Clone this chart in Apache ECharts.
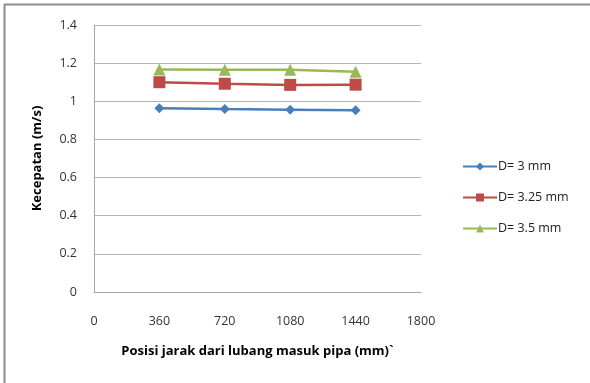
<!DOCTYPE html>
<html><head><meta charset="utf-8">
<script src="https://cdn.jsdelivr.net/npm/echarts@6/dist/echarts.min.js"></script>
<style>html,body{margin:0;padding:0;background:#fff}#c{width:590px;height:383px}</style>
</head><body><div id="c"></div>
<script>
const xPositions = [360, 720, 1080, 1440];
const seriesNames = ['D= 3 mm', 'D= 3.25 mm', 'D= 3.5 mm'];
const d3 = [0.964, 0.959, 0.956, 0.953];
const d325 = [1.100, 1.092, 1.086, 1.087];
const d35 = [1.167, 1.166, 1.165, 1.155];
const xTitle = 'Posisi jarak dari lubang masuk pipa (mm)`';
const yTitle = 'Kecepatan (m/s)';

const colors = ['#4a7ebb', '#be4b48', '#98b954'];
const symbols = ['diamond', 'rect', 'triangle'];
const sizes = [10, 12, 12];
const dataSets = [d3, d325, d35];
const font = 'Open Sans';

const chart = echarts.init(document.getElementById('c'));
chart.setOption({
  animation: false,
  textStyle: {fontFamily: font},
  grid: {left: 94, right: 169, top: 25, bottom: 91, containLabel: false},
  xAxis: {
    type: 'value', min: 0, max: 1800, interval: 360,
    name: xTitle, nameLocation: 'middle', nameGap: 53,
    nameTextStyle: {fontSize: 13, fontWeight: 'bold', color: '#000', fontFamily: font},
    axisLine: {show: true, lineStyle: {color: '#a6a6a6'}},
    axisTick: {show: false},
    splitLine: {show: false},
    axisLabel: {fontSize: 12.5, color: '#333', margin: 23, formatter: v => String(v)}
  },
  yAxis: {
    type: 'value', min: 0, max: 1.4, interval: 0.2,
    name: yTitle, nameLocation: 'middle', nameGap: 50,
    nameTextStyle: {fontSize: 13, fontWeight: 'bold', color: '#000', fontFamily: font},
    axisLine: {show: true, lineStyle: {color: '#a6a6a6'}},
    axisTick: {show: false},
    splitLine: {show: true, lineStyle: {color: '#b4b4b4'}},
    axisLabel: {fontSize: 12.5, color: '#333', margin: 17,
      formatter: v => String(Math.round(v * 10) / 10)}
  },
  legend: {
    orient: 'vertical', left: 457, top: 155, itemGap: 18,
    itemWidth: 34, itemHeight: 10,
    textStyle: {fontSize: 12.5, color: '#222', padding: [0, 0, 0, -4]},
    data: seriesNames
  },
  graphic: [
    {type: 'line', shape: {x1: 4.5, y1: 4, x2: 4.5, y2: 383}, style: {stroke: '#8c8c8c', lineWidth: 2}},
    {type: 'line', shape: {x1: 4, y1: 4.5, x2: 590, y2: 4.5}, style: {stroke: '#8c8c8c', lineWidth: 2}}
  ],
  series: dataSets.map((d, i) => ({
    name: seriesNames[i], type: 'line',
    data: xPositions.map((x, j) => [x, d[j]]),
    symbol: symbols[i], symbolSize: sizes[i],
    lineStyle: {color: colors[i], width: 2.5},
    itemStyle: {color: colors[i]}
  }))
});
</script></body></html>
